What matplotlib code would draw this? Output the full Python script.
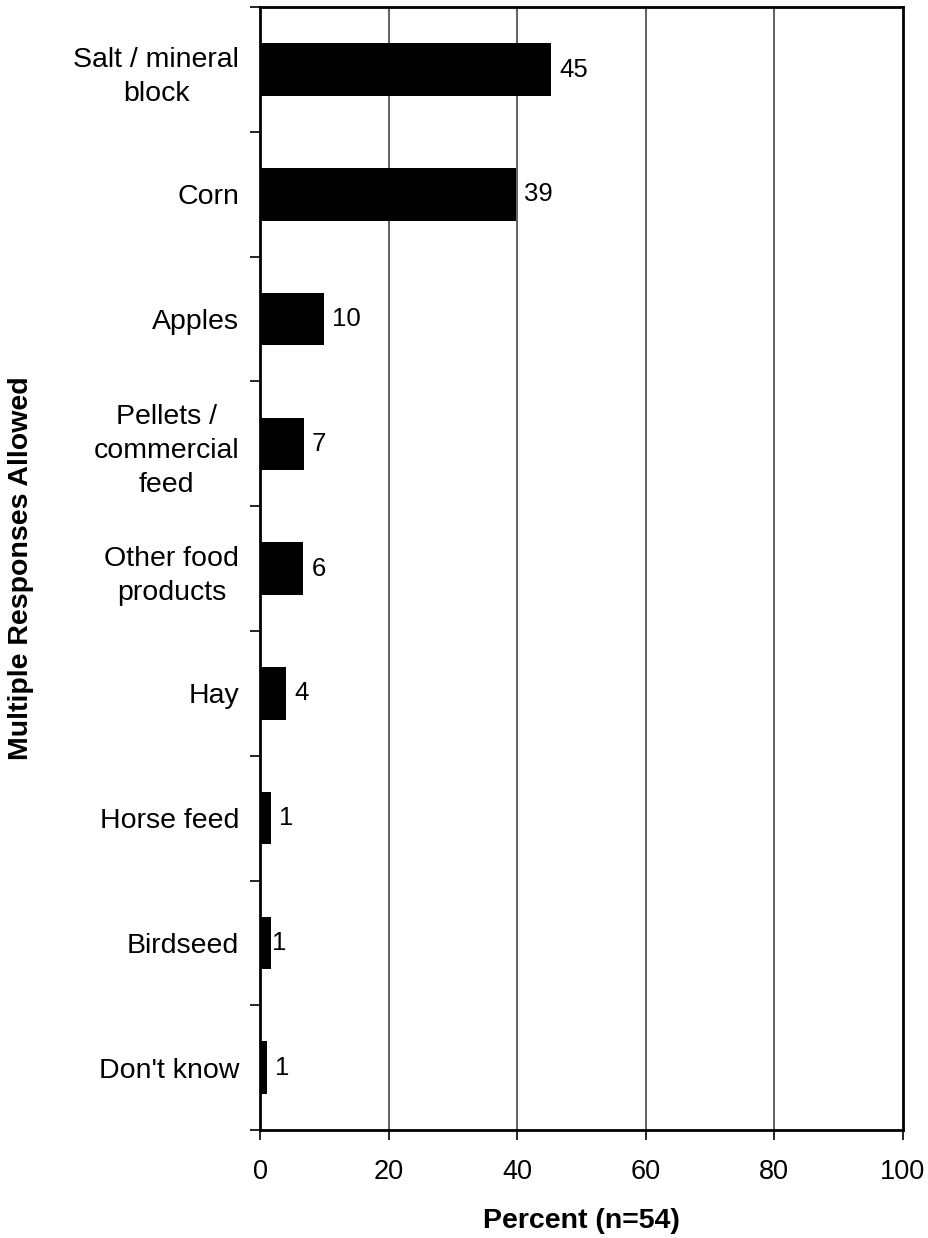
import matplotlib
matplotlib.use("Agg")
import matplotlib.pyplot as plt

categories = ["Salt / mineral\nblock", "Corn", "Apples", "Pellets /\ncommercial\nfeed",
              "Other food\nproducts", "Hay", "Horse feed", "Birdseed", "Don't know"]
values = [45.3, 39.8, 9.9, 6.8, 6.7, 4.0, 1.7, 1.7, 1.1]
labels = ["45", "39", "10", "7", "6", "4", "1", "1", "1"]
xticks = [0, 20, 40, 60, 80, 100]

plt.rcParams['font.family'] = ['Liberation Sans', 'DejaVu Sans']

fig = plt.figure(figsize=(9.29, 12.38), dpi=100)
ax = fig.add_axes([0.2799, 0.0872, 0.692, 0.907])

n = len(categories)
ypos = list(range(n))
ax.barh(ypos, values, height=0.42, color='black', zorder=3)
ax.set_ylim(n - 0.5, -0.5)
ax.set_xlim(0, 100)

offsets = [6, 6, 6, 6, 6, 6, 6, 1, 6]
for y, v, lab, off in zip(ypos, values, labels, offsets):
    ax.annotate(lab, (v, y), xytext=(off, 0), textcoords='offset points',
                va='center', ha='left', fontsize=18.5)

ax.set_xticks(xticks)
ax.set_xticklabels([str(t) for t in xticks], fontsize=19.5)
ax.set_yticks(ypos)
ax.set_yticklabels(categories, fontsize=20.5, linespacing=1.4)
for t in ax.get_yticklabels():
    t.set_multialignment('center')
ax.tick_params(axis='y', length=0, pad=15)
# boundary ticks
ax.set_yticks([i - 0.5 for i in range(n + 1)], minor=True)
ax.tick_params(axis='y', which='minor', length=7, width=1.2, color='black', direction='out')
ax.tick_params(axis='x', length=7, width=1.2, direction='out', pad=14)

for x in xticks[1:-1]:
    ax.axvline(x, color='#555555', lw=1.3, zorder=1)

for s in ax.spines.values():
    s.set_linewidth(2)
    s.set_color('black')

ax.set_xlabel("Percent (n=54)", fontsize=20.5, fontweight='bold')
ax.set_ylabel("Multiple Responses Allowed", fontsize=20.5, fontweight='bold')
ax.xaxis.set_label_coords(0.5, -0.069)
ax.yaxis.set_label_coords(-0.351, 0.5)

fig.savefig("out.png", dpi=100)
